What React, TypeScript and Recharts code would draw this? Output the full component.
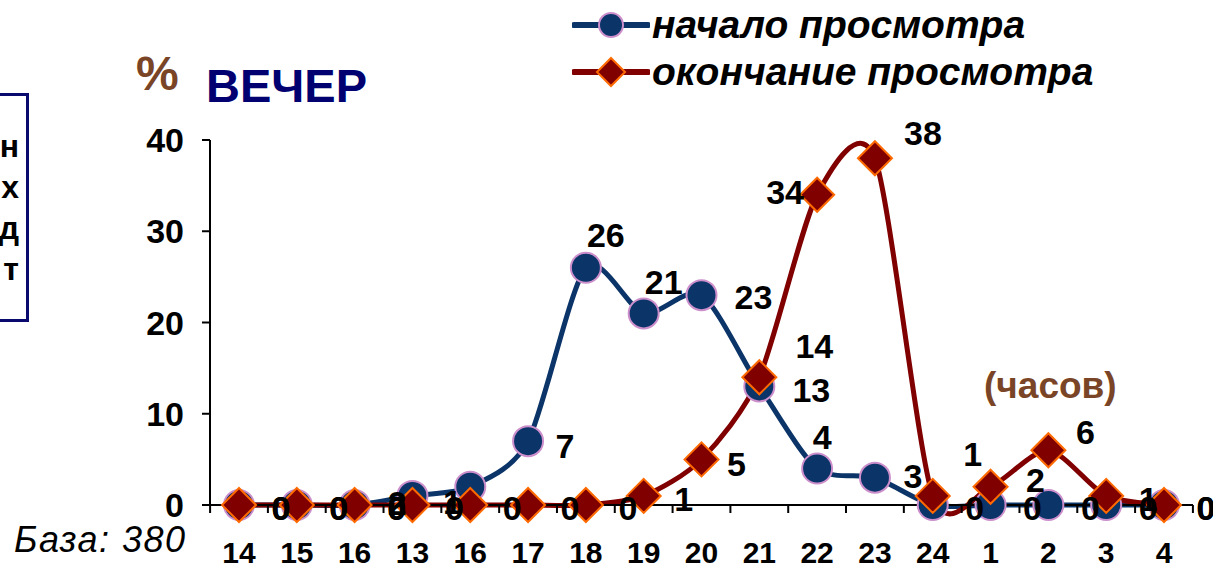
import React from 'react';
import { LineChart, Line, XAxis, YAxis, LabelList } from 'recharts';

const hours = ['14', '15', '16', '13', '16', '17', '18', '19', '20', '21', '22', '23', '24', '1', '2', '3', '4'];
const startViewing = [0, 0, 0, 1, 2, 7, 26, 21, 23, 13, 4, 3, 0, 0, 0, 0, 0];
const endViewing = [0, 0, 0, 0, 0, 0, 0, 1, 5, 14, 34, 38, 1, 2, 6, 1, 0];
const yTicks = [0, 10, 20, 30, 40];

const data = hours.map((h, i) => ({ hour: h, start: startViewing[i], end: endViewing[i] }));

// hand-placed label nudges (dx, dy) by point index
const startLabelShift: Record<number, [number, number]> = {
  3: [40, 6],
  4: [-73, 16],
  5: [37, 5],
  6: [20, -33],
  7: [20, -31],
  8: [52, 2],
  9: [52, 4],
  10: [5, -32],
  11: [38, -2],
};
const endLabelShift: Record<number, [number, number]> = {
  7: [40, 3],
  8: [35, 5],
  9: [55, -31],
  10: [-32, -3],
  11: [48, -25],
  12: [40, -42],
  13: [45, -7],
  14: [37, -18],
  15: [42, 3],
};

const BLUE = '#0B3468';
const RED = '#800000';
const FONT = '"Liberation Sans", Arial, sans-serif';

// Excel-style smoothed line through every point
function smoothCurve(context: any) {
  let pts: number[][] = [];
  return {
    areaStart() {},
    areaEnd() {},
    lineStart() {
      pts = [];
    },
    point(x: number, y: number) {
      pts.push([+x, +y]);
    },
    lineEnd() {
      if (!pts.length) return;
      context.moveTo(pts[0][0], pts[0][1]);
      const k = 0.13;
      for (let i = 0; i < pts.length - 1; i++) {
        const p0 = pts[i - 1] || pts[i];
        const p1 = pts[i];
        const p2 = pts[i + 1];
        const p3 = pts[i + 2] || p2;
        context.bezierCurveTo(
          p1[0] + (p2[0] - p0[0]) * k,
          p1[1] + (p2[1] - p0[1]) * k,
          p2[0] - (p3[0] - p1[0]) * k,
          p2[1] - (p3[1] - p1[1]) * k,
          p2[0],
          p2[1]
        );
      }
    },
  };
}

const CircleDot = (props: any) => {
  const { cx, cy } = props;
  if (cx == null || cy == null) return null;
  return <circle cx={cx} cy={cy} r={15} fill={BLUE} stroke="#CC8FCC" strokeWidth={2} />;
};

const DiamondDot = (props: any) => {
  const { cx, cy } = props;
  if (cx == null || cy == null) return null;
  const s = 17;
  return (
    <path
      d={`M${cx},${cy - s} L${cx + s},${cy} L${cx},${cy + s} L${cx - s},${cy} Z`}
      fill={RED}
      stroke="#FF6A00"
      strokeWidth={2}
    />
  );
};

const makeLabel = (shifts: Record<number, [number, number]>) => (props: any) => {
  const { x, y, value, index } = props;
  if (x == null || y == null) return null;
  const [dx, dy] = shifts[index] || (value === 0 ? [42, 3] : [42, -10]);
  return (
    <text
      x={x + dx}
      y={y + dy}
      textAnchor="middle"
      dominantBaseline="central"
      fontFamily={FONT}
      fontWeight="bold"
      fontSize={34}
      fill="#000"
    >
      {value}
    </text>
  );
};

const StartLabel = makeLabel(startLabelShift);
const EndLabel = makeLabel(endLabelShift);

// hour label under each point, with the small marks between categories
const HourTick = (props: any) => {
  const { x, y, payload, width, visibleTicksCount, index } = props;
  const band = width / visibleTicksCount;
  return (
    <g>
      <line x1={x - band / 2} x2={x - band / 2} y1={y} y2={y + 8} stroke="#000" strokeWidth={2} />
      {index === visibleTicksCount - 1 && (
        <line x1={x + band / 2} x2={x + band / 2} y1={y} y2={y + 8} stroke="#000" strokeWidth={2} />
      )}
      <text x={x} y={y + 58} textAnchor="middle" fontFamily={FONT} fontWeight="bold" fontSize={30} fill="#000">
        {payload.value}
      </text>
    </g>
  );
};

const abs = (left: number, top: number, extra: React.CSSProperties = {}): React.CSSProperties => ({
  position: 'absolute',
  left,
  top,
  whiteSpace: 'nowrap',
  fontFamily: FONT,
  ...extra,
});

export default function App() {
  return (
    <div style={{ position: 'absolute', left: 0, top: 0, width: 1213, height: 566, background: '#fff', overflow: 'hidden' }}>
      {/* side note box, mostly outside the frame */}
      <div
        style={{
          position: 'absolute',
          left: -62,
          top: 93,
          width: 78,
          height: 193,
          border: '3px solid #0A0A6E',
          textAlign: 'right',
          paddingRight: 7,
          paddingTop: 30,
          boxSizing: 'content-box',
          fontFamily: FONT,
          fontWeight: 'bold',
          fontSize: 32,
          lineHeight: '41px',
          color: '#000',
        }}
      >
        <div>н</div>
        <div>х</div>
        <div>д</div>
        <div>т</div>
      </div>

      <div style={abs(136, 46, { fontSize: 48, fontWeight: 'bold', color: '#7A4526', lineHeight: '56px' })}>%</div>
      <div style={abs(206, 58, { fontSize: 47, fontWeight: 'bold', color: '#000070', lineHeight: '56px' })}>ВЕЧЕР</div>

      {/* legend */}
      <svg style={{ position: 'absolute', left: 572, top: 8 }} width={78} height={34}>
        <line x1={2} x2={76} y1={17} y2={17} stroke={BLUE} strokeWidth={6} strokeLinecap="round" />
        <circle cx={39} cy={17} r={12} fill={BLUE} stroke="#CC8FCC" strokeWidth={2} />
      </svg>
      <div style={abs(652, 0, { fontSize: 39, fontWeight: 'bold', fontStyle: 'italic', lineHeight: '50px' })}>
        начало просмотра
      </div>
      <svg style={{ position: 'absolute', left: 572, top: 55 }} width={78} height={34}>
        <line x1={2} x2={76} y1={17} y2={17} stroke={RED} strokeWidth={6} strokeLinecap="round" />
        <path d="M39,3 L53,17 L39,31 L25,17 Z" fill={RED} stroke="#FF6A00" strokeWidth={2} />
      </svg>
      <div style={abs(652, 47, { fontSize: 39, fontWeight: 'bold', fontStyle: 'italic', lineHeight: '50px' })}>
        окончание просмотра
      </div>

      <div style={abs(984, 366, { fontSize: 37, fontWeight: 'bold', color: '#7A4526', lineHeight: '40px' })}>(часов)</div>
      <div style={abs(14, 521, { fontSize: 36, fontStyle: 'italic', color: '#000', lineHeight: '38px', letterSpacing: 1.5 })}>
        База: 380
      </div>

      <div style={{ position: 'absolute', left: 0, top: 0 }}>
        <LineChart width={1213} height={566} data={data} margin={{ top: 140, right: 20, bottom: 0, left: 150 }}>
          <XAxis
            dataKey="hour"
            type="category"
            allowDuplicatedCategory
            interval={0}
            padding={{ left: 29, right: 29 }}
            height={61}
            axisLine={{ stroke: '#000', strokeWidth: 2 }}
            tickLine={false}
            tickSize={0}
            tickMargin={0}
            tick={<HourTick />}
          />
          <YAxis
            type="number"
            domain={[0, 40]}
            ticks={yTicks}
            width={60}
            axisLine={{ stroke: '#000', strokeWidth: 2 }}
            tickLine={{ stroke: '#000', strokeWidth: 2 }}
            tickSize={8}
            tickMargin={18}
            tick={{ fontFamily: FONT, fontWeight: 'bold', fontSize: 34, fill: '#000' }}
          />
          <Line
            dataKey="start"
            type={smoothCurve as any}
            stroke={BLUE}
            strokeWidth={5}
            dot={<CircleDot />}
            activeDot={false}
            isAnimationActive={false}
          >
            <LabelList dataKey="start" content={<StartLabel />} />
          </Line>
          <Line
            dataKey="end"
            type={smoothCurve as any}
            stroke={RED}
            strokeWidth={5}
            dot={<DiamondDot />}
            activeDot={false}
            isAnimationActive={false}
          >
            <LabelList dataKey="end" content={<EndLabel />} />
          </Line>
        </LineChart>
      </div>
    </div>
  );
}
